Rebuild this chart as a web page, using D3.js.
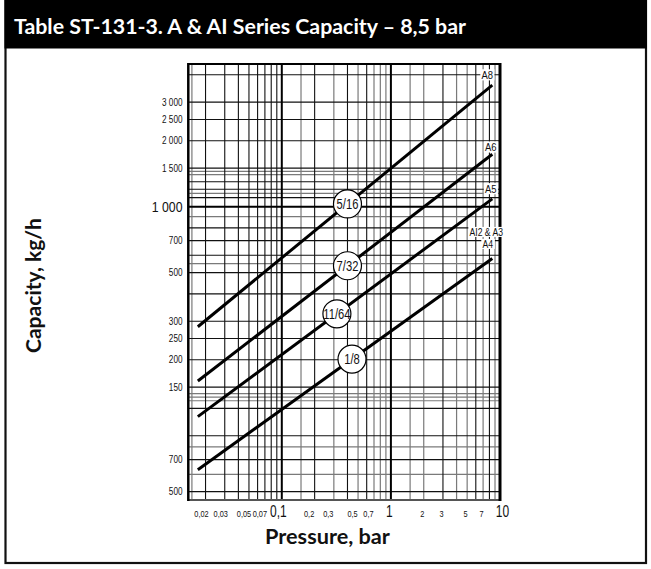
<!DOCTYPE html>
<html><head><meta charset="utf-8">
<script src="https://cdn.jsdelivr.net/npm/d3@7"></script>
<style>
html,body{margin:0;padding:0;background:#fff;}
svg{display:block;}
.num{font-family:'Liberation Sans',Arial,sans-serif;}
.ttl{font-family:'Lato','Open Sans',sans-serif;font-weight:700;}
</style></head>
<body>
<script>
// ---- data ----
const title = "Table ST-131-3. A & AI Series Capacity \u2013 8,5 bar";
const xTitle = "Pressure, bar";
const yTitle = "Capacity, kg/h";
const pressureRange = [0.017, 8.5];            // bar, start / end of each curve
const seriesNames = ["A8", "A6", "A5", "AI2 & A3|A4"];
const orifices = ["5/16", "7/32", "11/64", "1/8"];
const capacityStart = [283, 160, 110, 63];     // kg/h at 0.017 bar
const capacityEnd = [3590, 1735, 1085, 580];   // kg/h at 8.5 bar
const orificeAt = [0.40, 0.40, 0.32, 0.44];    // pressure where the orifice badge sits
const xTickValues = [0.02, 0.03, 0.05, 0.07, 0.1, 0.2, 0.3, 0.5, 0.7, 1, 2, 3, 5, 7, 10];
const xTickLabels = ["0,02", "0,03", "0,05", "0,07", "0,1", "0,2", "0,3", "0,5", "0,7", "1", "2", "3", "5", "7", "10"];
const xBigTicks = [0.1, 1, 10];
const yTickValues = [50, 70, 150, 200, 250, 300, 500, 700, 1000, 1500, 2000, 2500, 3000];
const yTickLabels = ["500", "700", "150", "200", "250", "300", "500", "700", "1 000", "1 500", "2 000", "2 500", "3 000"];
const yBigTicks = [1000];
const xGridDark = [0.02, 0.03, 0.04, 0.05, 0.06, 0.07, 0.08, 0.09, 0.2, 0.4, 0.6, 3, 6, 8];
const xGridLight = [0.015, 0.15, 0.3, 0.5, 0.7, 0.8, 0.9, 1.5, 2, 4, 5, 7, 9];
const xGridHeavy = [0.1, 1];
const yGridDark = [50, 70, 90, 120, 150, 200, 250, 300, 400, 500, 600, 700, 800, 1100, 1200, 1300, 1500, 2000, 2500, 3000, 4000];
const yGridLight = [60, 80, 130, 135, 140, 550, 900, 1150, 1400, 1450];
const yGridHeavy = [1000];
const xDomain = [0.0139, 10];
const yDomain = [45.8, 4480];

// ---- layout ----
const W = 651, H = 569;
const plot = {l: 188.3, r: 500, t: 64, b: 500};
const NARROW = 0.82;

const svg = d3.select("body").append("svg").attr("width", W).attr("height", H);

const x = d3.scaleLog().domain(xDomain).range([plot.l, plot.r]);
const y = d3.scaleLog().domain(yDomain).range([plot.b, plot.t]);

// frame & header
svg.append("rect").attr("x", 5.5).attr("y", 0).attr("width", 640.5).attr("height", 563)
  .attr("fill", "#fff").attr("stroke", "#111").attr("stroke-width", 2.2);
svg.append("rect").attr("x", 4.5).attr("y", 0).attr("width", 642.5).attr("height", 48.5).attr("fill", "#000");

function fitText(sel, target) {
  const n = sel.node();
  const w = n.getComputedTextLength();
  const fs = parseFloat(sel.attr("font-size"));
  sel.attr("font-size", (fs * target / w).toFixed(2));
}
// condensed text helper
function ntext(parent, tx, ty, str, size, anchor, sx, dy) {
  const gg = parent.append("g").attr("transform", `translate(${tx},${ty}) scale(${sx},1)`);
  const t = gg.append("text").attr("class", "num").attr("x", 0).attr("y", 0)
    .attr("dy", dy || 0).attr("text-anchor", anchor).attr("font-size", size)
    .attr("fill", "#111").text(str);
  return {g: gg, t};
}

const ht = svg.append("text").attr("class", "ttl").attr("x", 14).attr("y", 33.5)
  .attr("fill", "#fff").attr("font-size", 20).text(title);
fitText(ht, 452);

// grid
const g = svg.append("g");
function vLines(vals, color, sw) {
  g.selectAll(null).data(vals).enter().append("line")
    .attr("x1", d => x(d)).attr("x2", d => x(d)).attr("y1", plot.t).attr("y2", plot.b)
    .attr("stroke", color).attr("stroke-width", sw);
}
function hLines(vals, color, sw) {
  g.selectAll(null).data(vals).enter().append("line")
    .attr("y1", d => y(d)).attr("y2", d => y(d)).attr("x1", plot.l).attr("x2", plot.r)
    .attr("stroke", color).attr("stroke-width", sw);
}
vLines(xGridLight, "#7a7a7a", 1.2);
hLines(yGridLight, "#7a7a7a", 1.2);
vLines(xGridDark, "#111", 1.1);
hLines(yGridDark, "#111", 1.1);
vLines(xGridHeavy, "#000", 2);
hLines(yGridHeavy, "#000", 2);

// plot border
svg.append("line").attr("x1", plot.l).attr("x2", plot.r).attr("y1", plot.t).attr("y2", plot.t).attr("stroke", "#000").attr("stroke-width", 2);
svg.append("line").attr("x1", plot.l).attr("x2", plot.r).attr("y1", plot.b).attr("y2", plot.b).attr("stroke", "#555").attr("stroke-width", 2);
svg.append("line").attr("x1", plot.l).attr("x2", plot.l).attr("y1", plot.t - 1).attr("y2", plot.b + 1).attr("stroke", "#000").attr("stroke-width", 2.5);
svg.append("line").attr("x1", plot.r).attr("x2", plot.r).attr("y1", plot.t - 1).attr("y2", plot.b + 1).attr("stroke", "#000").attr("stroke-width", 3);

// x tick labels
const xAxisG = svg.append("g");
xTickValues.forEach((d, i) => {
  const big = xBigTicks.includes(d);
  const off = d === 10 ? 2.5 : (d < 0.04 ? -4 : (d < 0.1 ? -5 : (d < 1 ? (d === 0.1 ? -3.5 : -5.5) : -1.5)));
  ntext(xAxisG, x(d) + off, 516.5, xTickLabels[i], big ? 16 : 9, "middle", big ? 0.75 : NARROW);
});

// y tick labels
const yAxisG = svg.append("g");
yTickValues.forEach((d, i) => {
  const big = yBigTicks.includes(d);
  ntext(yAxisG, 182.5, y(d), yTickLabels[i], big ? 15 : 10, "end", NARROW, "0.36em");
});

// axis titles
const xt = svg.append("text").attr("class", "ttl").attr("x", 327.5).attr("y", 544)
  .attr("text-anchor", "middle").attr("font-size", 18).attr("fill", "#111").text(xTitle);
fitText(xt, 125);
const yt = svg.append("text").attr("class", "ttl")
  .attr("transform", "translate(40.5,285.5) rotate(-90)")
  .attr("text-anchor", "middle").attr("font-size", 18).attr("fill", "#111").text(yTitle);
fitText(yt, 135);

// series lines
const lineGen = d3.line().x(d => x(d[0])).y(d => y(d[1]));
const seriesData = seriesNames.map((name, i) => ({
  name, orifice: orifices[i],
  pts: [[pressureRange[0], capacityStart[i]], [pressureRange[1], capacityEnd[i]]],
  at: orificeAt[i]
}));
function capAt(s, p) {
  const [p0, c0] = s.pts[0], [p1, c1] = s.pts[1];
  const t = (Math.log(p) - Math.log(p0)) / (Math.log(p1) - Math.log(p0));
  return Math.exp(Math.log(c0) + t * (Math.log(c1) - Math.log(c0)));
}
svg.append("g").selectAll("path").data(seriesData).enter().append("path")
  .attr("d", d => lineGen(d.pts)).attr("fill", "none").attr("stroke", "#000").attr("stroke-width", 3);

// orifice badges
const badgeG = svg.append("g");
seriesData.forEach(s => {
  const bx = x(s.at), by = y(capAt(s, s.at));
  badgeG.append("circle").attr("cx", bx).attr("cy", by).attr("r", 14)
    .attr("fill", "#fff").attr("stroke", "#000").attr("stroke-width", 1.2);
  ntext(badgeG, bx, by, s.orifice, 14, "middle", 0.8, "0.36em");
});

// series name labels at curve ends
const endG = svg.append("g");
seriesData.forEach((s, i) => {
  const parts = s.name.split("|");
  const ex = x(pressureRange[1]), ey = y(capacityEnd[i]);
  parts.forEach((p, j) => {
    const single = parts.length === 1;
    const cx = single ? ex + (i === 0 ? -5 : -1.5) : ex - (j === 0 ? 6 : 4.5);
    const cy = single ? ey - (i === 1 ? 7 : 10) : ey - (j === 0 ? 26.5 : 14.5);
    const o = ntext(endG, cx, cy, p, single ? 11.5 : 10.5, "middle", NARROW, "0.36em");
    const bb = o.t.node().getBBox();
    o.g.insert("rect", "text").attr("x", bb.x - 1.5).attr("y", bb.y + 1).attr("width", bb.width + 3).attr("height", bb.height - 2).attr("fill", "#fff");
  });
});
</script>
</body></html>
